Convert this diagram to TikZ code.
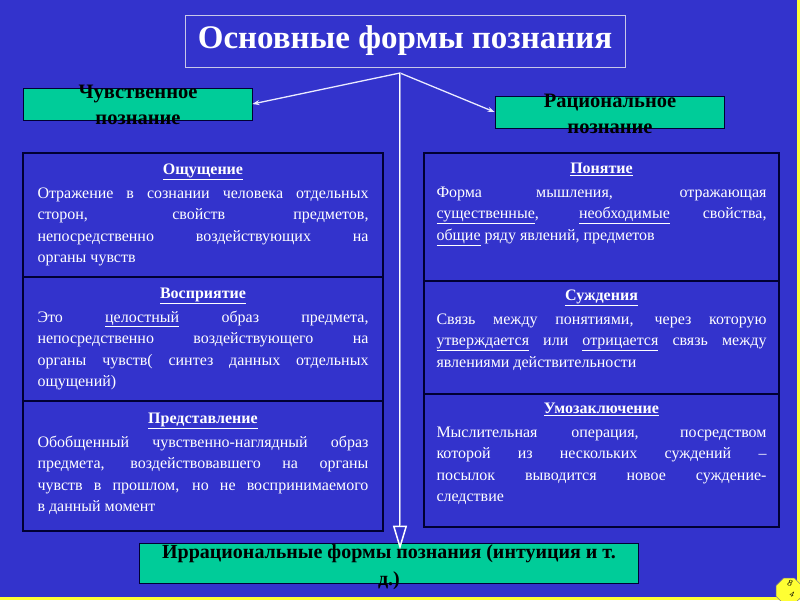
\documentclass[tikz,border=0pt]{standalone}
\usepackage{fontspec}
\setmainfont{Liberation Serif}
\usetikzlibrary{arrows.meta,calc,shapes.geometric}
\definecolor{bg}{HTML}{3333CC}
\definecolor{grn}{HTML}{00CC99}
\definecolor{cellline}{HTML}{000033}
\definecolor{titleline}{HTML}{C8C8E8}
\definecolor{pageyellow}{HTML}{FFFF33}
\hyphenpenalty=10000
\exhyphenpenalty=10000
\newcommand\mycell[3]{\begin{minipage}[t]{#1}\fontsize{16}{21.5}\selectfont{\centering\bfseries\underline{#2}\par}\vspace{2pt}#3\end{minipage}}
\tikzset{
  titlebox/.style={draw=titleline, line width=1pt, text=white, font=\fontsize{33}{38}\selectfont\bfseries, inner sep=0pt},
  greenbox/.style={fill=grn, draw=cellline, line width=0.8pt, text=black, align=center, inner sep=0pt},
  greentext/.style={font=\fontsize{20.5}{26}\selectfont\bfseries},
  cellbox/.style={draw=cellline, line width=2pt, fill=bg, anchor=north west, inner sep=0pt},
  celltext/.style={text=white, anchor=north, inner sep=0pt},
  thinarrow/.style={draw=white!92!blue, line width=1.3pt, -{Stealth[length=7pt,width=5pt]}},
  bigarrow/.style={draw=white, line width=2.5pt, -{Triangle[open, length=24pt, width=14pt, line width=1.5pt]}}
}
\begin{document}
\begin{tikzpicture}[x=1pt,y=-1pt]
\fill[bg] (0,0) rectangle (800,600);
\useasboundingbox (0,0) rectangle (800,600);
\fill[pageyellow] (797,0) rectangle (800,600);
\fill[pageyellow] (0,597) rectangle (800,600);

% title
\node[titlebox, minimum width=440pt, minimum height=52pt] (title) at (405,41) {Основные формы познания};

% green boxes
\node[greenbox, minimum width=229pt, minimum height=32pt] (sens) at (137.5,104) {};
\node[greentext, align=center] (senst) at (138,105) {Чувственное\\познание};
\node[greenbox, minimum width=229pt, minimum height=32pt] (rat) at (609.5,112) {};
\node[greentext, align=center] (ratt) at (610,114) {Рациональное\\познание};

% left column
\node[cellbox, minimum width=360pt, minimum height=124pt] (L1) at (22,152) {};
\node[cellbox, minimum width=360pt, minimum height=124pt] (L2) at (22,276) {};
\node[cellbox, minimum width=360pt, minimum height=130pt] (L3) at (22,400) {};
\node[celltext] (L1t) at ($(L1.north)+(0,12)$) {\mycell{331pt}{Ощущение}{Отражение в сознании человека отдельных\linebreak сторон, свойств предметов,\linebreak непосредственно воздействующих на\linebreak органы чувств}};
\node[celltext] (L2t) at ($(L2.north)+(0,12)$) {\mycell{331pt}{Восприятие}{Это \underline{целостный} образ предмета,\linebreak непосредственно воздействующего на\linebreak органы чувств( синтез данных отдельных\linebreak ощущений)}};
\node[celltext] (L3t) at ($(L3.north)+(0,13)$) {\mycell{331pt}{Представление}{Обобщенный чувственно-наглядный образ\linebreak предмета, воздействовавшего на органы\linebreak чувств в прошлом, но не воспринимаемого\linebreak в данный момент}};

% right column
\node[cellbox, minimum width=355pt, minimum height=128pt] (R1) at (423,152) {};
\node[cellbox, minimum width=355pt, minimum height=113pt] (R2) at (423,280) {};
\node[cellbox, minimum width=355pt, minimum height=133pt] (R3) at (423,393) {};
\node[celltext] (R1t) at ($(R1.north)+(0,11)$) {\mycell{330pt}{Понятие}{Форма мышления, отражающая\linebreak \underline{существенные}, \underline{необходимые} свойства,\linebreak \underline{общие} ряду явлений, предметов}};
\node[celltext] (R2t) at ($(R2.north)+(0,10)$) {\mycell{330pt}{Суждения}{Связь между понятиями, через которую\linebreak \underline{утверждается} или \underline{отрицается} связь между\linebreak явлениями действительности}};
\node[celltext] (R3t) at ($(R3.north)+(0,10)$) {\mycell{330pt}{Умозаключение}{Мыслительная операция, посредством\linebreak которой из нескольких суждений –\linebreak посылок выводится новое суждение-\linebreak следствие}};

% bottom box
\node[greenbox, minimum width=499pt, minimum height=40pt] (irr) at (388.5,563) {};
\node[font=\fontsize{20}{27}\selectfont\bfseries, align=center] (irrt) at (389,567) {Иррациональные формы познания (интуиция и т.\\д.)};

% connectors
\coordinate (apex) at (400,73);
\draw[thinarrow] (apex) -- (sens.east);
\draw[thinarrow] (apex) -- (rat.west);
\coordinate (vend) at ($(irr.north -| apex)+(0,7)$);
\draw[bigarrow] (apex) -- (vend);
\draw[draw=titleline!70!bg, line width=0.7pt] (apex) -- ($(vend)+(0,-24)$);

% page mark
\node[regular polygon, regular polygon sides=8, fill=pageyellow, draw=black!50, line width=0.5pt, minimum size=28pt, inner sep=0pt] (pg) at (789,591) {};
\node[font=\fontsize{9}{9}\selectfont\itshape, rotate=-15] (pg8) at (790,583) {8};
\node[font=\fontsize{8}{8}\selectfont\itshape, rotate=-15] (pg4) at (792,594) {4};
\end{tikzpicture}
\end{document}
